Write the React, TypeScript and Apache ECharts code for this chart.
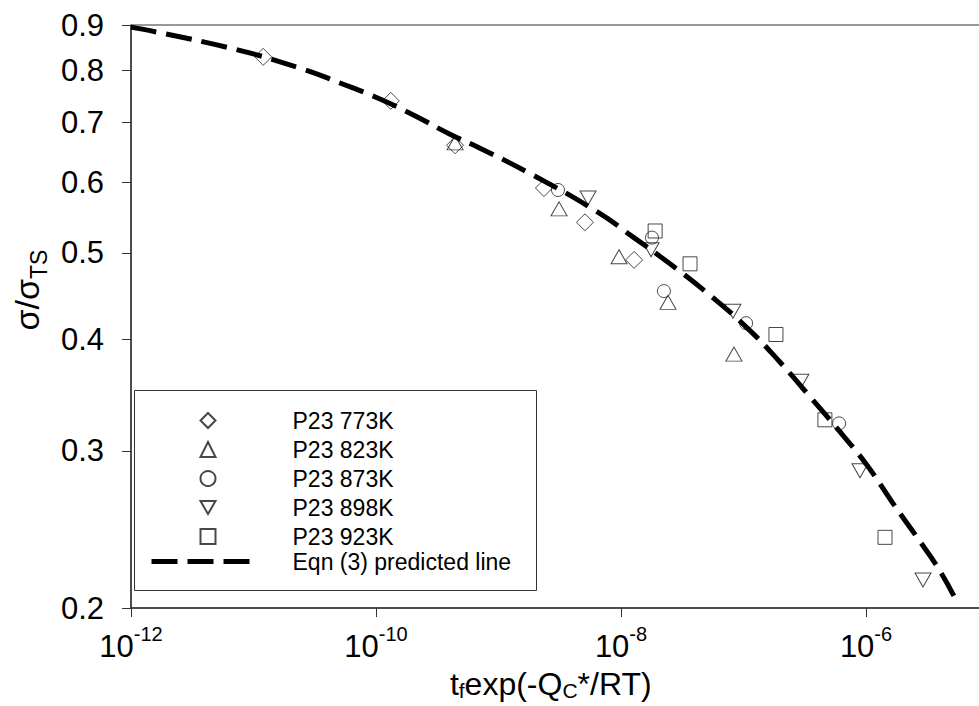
import React, { useEffect, useRef } from 'react';
import * as echarts from 'echarts';

// Measured data (x: t_f exp(-Qc*/RT), y: sigma/sigma_TS)
const x773 = [1.2e-11, 1.32e-10, 4.42e-10, 2.35e-9, 5.08e-9, 1.28e-8];
const y773 = [0.829, 0.740, 0.660, 0.591, 0.541, 0.491];
const x823 = [4.42e-10, 3.12e-9, 9.64e-9, 2.42e-8, 8.36e-8];
const y823 = [0.664, 0.560, 0.495, 0.440, 0.385];
const x873 = [3.06e-9, 1.79e-8, 2.24e-8, 1.05e-7, 6.03e-7];
const y873 = [0.588, 0.520, 0.453, 0.417, 0.322];
const x898 = [5.38e-9, 1.76e-8, 8.2e-8, 2.94e-7, 8.93e-7, 2.92e-6];
const y898 = [0.576, 0.504, 0.430, 0.359, 0.285, 0.215];
const x923 = [1.9e-8, 3.66e-8, 1.84e-7, 4.62e-7, 1.43e-6];
const y923 = [0.529, 0.486, 0.405, 0.325, 0.240];

// Eqn (3) predicted line
const xEqn = [1e-12, 6.43e-12, 2.54e-11, 5.08e-11, 1.02e-10, 2.0e-10, 4.02e-10, 7.06e-10, 1.91e-9, 6.37e-9, 1.25e-8, 2.51e-8, 5.04e-8, 1.07e-7, 1.99e-7, 3.49e-7, 6.14e-7, 1.02e-6, 1.66e-6, 2.61e-6, 4.02e-6, 5.53e-6];
const yEqn = [0.895, 0.848, 0.803, 0.775, 0.746, 0.714, 0.679, 0.655, 0.611, 0.556, 0.521, 0.486, 0.451, 0.412, 0.377, 0.345, 0.315, 0.289, 0.262, 0.240, 0.220, 0.203];

const xTicks = [1e-12, 1e-10, 1e-8, 1e-6];
const yTicks = [0.2, 0.3, 0.4, 0.5, 0.6, 0.7, 0.8, 0.9];

const seriesNames = ['P23 773K', 'P23 823K', 'P23 873K', 'P23 898K', 'P23 923K', 'Eqn (3) predicted line'];

export default function App() {
  const ref = useRef<HTMLDivElement>(null);
  useEffect(() => {
    document.body.style.margin = '0';
    const chart = echarts.init(ref.current!, null, { renderer: 'svg' });
    const font = "'Liberation Sans', Arial, Helvetica, sans-serif";
    const zip = (xs: number[], ys: number[]) => xs.map((x, i) => [x, ys[i]]);
    const markerStyle = { color: 'transparent', borderColor: '#1a1a1a', borderWidth: 1 };
    const scatter = (name: string, xs: number[], ys: number[], symbol: string, size: any, rotate = 0) => ({
      type: 'scatter',
      name,
      data: zip(xs, ys),
      symbol,
      symbolSize: size,
      symbolRotate: rotate,
      itemStyle: markerStyle,
      z: 2,
    });
    const legendText = (pad: number) => ({
      color: '#000',
      fontFamily: font,
      fontSize: 23,
      lineHeight: 15,
      rich: {
        t: { fontFamily: font, fontSize: 23, color: '#000', lineHeight: 15, padding: [0, 0, 0, pad] },
      },
    });

    chart.setOption({
      animation: false,
      backgroundColor: '#fff',
      grid: {
        left: 131,
        top: 25,
        width: 857.5,
        height: 583,
        show: true,
        borderColor: '#333',
        borderWidth: 1,
        backgroundColor: 'transparent',
        containLabel: false,
        outerBoundsMode: 'none',
      },
      xAxis: {
        type: 'log',
        logBase: 10,
        min: 1e-12,
        max: 1e-5,
        name: 't{s|f}exp(-Q{s|C}*/RT)',
        nameLocation: 'middle',
        nameGap: 58,
        nameTextStyle: {
          fontFamily: font,
          fontSize: 32,
          color: '#000',
          lineHeight: 34,
          padding: [0, 18, 0, 0],
          rich: {
            s: { fontFamily: font, fontSize: 21, color: '#000', verticalAlign: 'bottom', lineHeight: 34 },
          },
        },
        axisLine: { show: true, lineStyle: { color: '#333', width: 1.5 } },
        axisTick: { show: true, inside: false, length: 9, customValues: xTicks, lineStyle: { color: '#333', width: 1 } },
        minorTick: { show: false },
        splitLine: { show: false },
        axisLabel: {
          customValues: xTicks,
          margin: 16,
          formatter: (v: number) => `{b|10}{s|${Math.round(Math.log10(v))}}`,
          rich: {
            b: { fontFamily: font, fontSize: 31, color: '#000', lineHeight: 38, verticalAlign: 'bottom' },
            s: { fontFamily: font, fontSize: 20, color: '#000', lineHeight: 38, verticalAlign: 'top' },
          },
        },
      },
      yAxis: {
        type: 'log',
        logBase: 10,
        min: 0.2,
        max: 0.9,
        axisLine: { show: true, lineStyle: { color: '#333', width: 1.5 } },
        axisTick: { show: true, inside: false, length: 9, customValues: yTicks, lineStyle: { color: '#333', width: 1 } },
        minorTick: { show: false },
        splitLine: { show: false },
        axisLabel: {
          customValues: yTicks,
          margin: 27,
          fontFamily: font,
          fontSize: 31,
          color: '#000',
          formatter: (v: number) => v.toFixed(1),
        },
      },
      legend: [
        {
          orient: 'vertical',
          left: 199.5,
          top: 409,
          padding: 0,
          itemWidth: 15,
          itemHeight: 15,
          itemGap: 6,
          z: 10,
          selectedMode: false,
          data: [
            seriesNames[0],
            seriesNames[1],
            seriesNames[2],
            { name: seriesNames[3], icon: 'path://M0,0 L16,0 L8,14 Z' },
            seriesNames[4],
          ],
          formatter: (name: string) => `{t|${name}}`,
          textStyle: legendText(72),
        },
        {
          orient: 'vertical',
          left: 149,
          top: 550,
          padding: 0,
          itemWidth: 102,
          itemHeight: 15,
          z: 10,
          selectedMode: false,
          data: [
            { name: seriesNames[5], itemStyle: { color: 'transparent', borderColor: 'transparent', borderWidth: 0 } },
          ],
          lineStyle: { color: '#000', width: 5, type: [26, 10], cap: 'butt' },
          formatter: (name: string) => `{t|${name}}`,
          textStyle: legendText(34),
        },
      ],
      graphic: [
        {
          type: 'rect',
          z: 5,
          shape: { x: 134.5, y: 390.5, width: 402, height: 200 },
          style: { fill: '#fff', stroke: '#333', lineWidth: 1 },
        },
        {
          type: 'text',
          z: 5,
          x: 30,
          y: 290,
          rotation: Math.PI / 2,
          style: {
            text: '{a|σ/σ}{b|TS}',
            align: 'center',
            verticalAlign: 'middle',
            rich: {
              a: { fontFamily: font, fontSize: 34, fill: '#000', lineHeight: 40, verticalAlign: 'top' },
              b: { fontFamily: font, fontSize: 23, fill: '#000', lineHeight: 40, verticalAlign: 'bottom' },
            },
          },
        },
      ],
      series: [
        scatter(seriesNames[0], x773, y773, 'diamond', 17),
        scatter(seriesNames[1], x823, y823, 'triangle', [16, 14]),
        scatter(seriesNames[2], x873, y873, 'circle', 13),
        scatter(seriesNames[3], x898, y898, 'triangle', [16, 14], 180),
        scatter(seriesNames[4], x923, y923, 'rect', 14),
        {
          type: 'line',
          name: seriesNames[5],
          data: zip(xEqn, yEqn),
          smooth: true,
          showSymbol: false,
          symbol: 'none',
          z: 3,
          lineStyle: { color: '#000', width: 5, type: [26, 10] },
          itemStyle: { color: '#000' },
        },
      ],
    });
    return () => chart.dispose();
  }, []);
  return <div ref={ref} style={{ width: 979, height: 706 }} />;
}
